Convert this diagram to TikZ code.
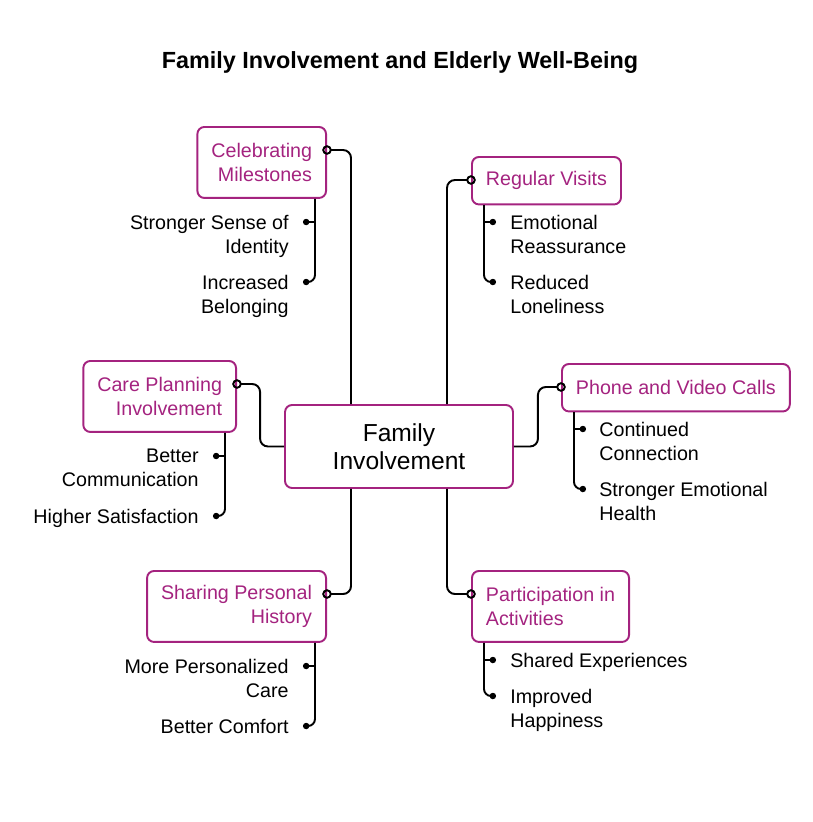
\documentclass[tikz,border=0pt]{standalone}
\usepackage{fontspec}
\setmainfont{Liberation Sans}
\usepackage{xcolor}
\usepackage{tikz}
\usetikzlibrary{arrows.meta, positioning, calc}

\definecolor{plum}{HTML}{A4237F}

\begin{document}
\begin{tikzpicture}[
  x=0.02cm, y=-0.02cm,
  every node/.style={font=\fontsize{11.2}{13.6}\selectfont},
  hubblock/.style={draw=plum, line width=1.1pt, rounded corners=4pt, align=center,
                   minimum width=4.56cm, minimum height=1.66cm,
                   font=\fontsize{14}{16}\selectfont},
  topicL/.style  ={draw=plum, line width=1.1pt, rounded corners=4pt, text=plum,
                   align=right, inner xsep=0.28cm, inner ysep=0pt, anchor=north east},
  topicR/.style  ={draw=plum, line width=1.1pt, rounded corners=4pt, text=plum,
                   align=left, inner xsep=0.28cm, inner ysep=0pt, anchor=north west},
  one/.style={minimum height=0.95cm},
  two/.style={minimum height=1.42cm},
  itemL/.style={align=right, inner sep=0pt, anchor=north east},
  itemR/.style={align=left, inner sep=0pt, anchor=north west},
  link/.style={arrows={Circle[open, length=5.4pt]-}, line width=1.1pt,
               rounded corners=4.5pt, shorten <=-2.7pt},
  twig/.style={arrows={-Circle[length=3.6pt]}, line width=1.1pt},
  titleText/.style={font=\bfseries\fontsize{13.3}{16}\selectfont},
]
\useasboundingbox (0,0) rectangle (813,822);

%% ── Title ───────────────────────────────────────────────────────────────────
\node[titleText] (title) at (400,63) {Family Involvement and Elderly Well-Being};

%% ── Hub ─────────────────────────────────────────────────────────────────────
\node[hubblock] (hub) at (399,446.5) {Family\\Involvement};

%% ── Topics, left side ───────────────────────────────────────────────────────
\node[topicL, two] (mile)  at (327,126) {Celebrating\\Milestones};
\node[topicL, two] (care)  at (237,360) {Care Planning\\Involvement};
\node[topicL, two] (share) at (327,570) {Sharing Personal\\History};

%% ── Topics, right side ──────────────────────────────────────────────────────
\node[topicR, one] (visit) at (471,156) {Regular Visits};
\node[topicR, one] (phone) at (561,363) {Phone and Video Calls};
\node[topicR, two] (part)  at (471,570) {Participation in\\Activities};

%% ── Item dots ───────────────────────────────────────────────────────────────
\coordinate (identD)  at (303,222);
\coordinate (belongD) at (303,282);
\coordinate (reassD)  at (496,222);
\coordinate (lonelyD) at (496,282);
\coordinate (commD)   at (213,456);
\coordinate (satisD)  at (213,516);
\coordinate (connD)   at (586,429);
\coordinate (healthD) at (586,489);
\coordinate (persD)   at (303,666);
\coordinate (comfD)   at (303,726);
\coordinate (sharedD) at (496,660);
\coordinate (happyD)  at (496,696);

%% ── Items ───────────────────────────────────────────────────────────────────
\node[itemL] (ident)  at ($(identD)+(-14,-7)$)  {Stronger Sense of\\Identity};
\node[itemL] (belong) at ($(belongD)+(-14,-7)$) {Increased\\Belonging};
\node[itemR] (reass)  at ($(reassD)+(14,-7)$)   {Emotional\\Reassurance};
\node[itemR] (lonely) at ($(lonelyD)+(14,-7)$)  {Reduced\\Loneliness};
\node[itemL] (comm)   at ($(commD)+(-14,-7)$)   {Better\\Communication};
\node[itemL] (satis)  at ($(satisD)+(-14,-7)$)  {Higher Satisfaction};
\node[itemR] (conn)   at ($(connD)+(13,-7)$)    {Continued\\Connection};
\node[itemR] (health) at ($(healthD)+(13,-7)$)  {Stronger Emotional\\Health};
\node[itemL] (pers)   at ($(persD)+(-14,-7)$)   {More Personalized\\Care};
\node[itemL] (comf)   at ($(comfD)+(-14,-7)$)   {Better Comfort};
\node[itemR] (shared) at ($(sharedD)+(14,-7)$)  {Shared Experiences};
\node[itemR] (happy)  at ($(happyD)+(14,-7)$)   {Improved\\Happiness};

%% ── Hub to topics ───────────────────────────────────────────────────────────
\draw[link] ($(mile.north east)+(0,24)$)  -| ($(hub.north)+(-48,0)$);
\draw[link] ($(visit.north west)+(0,24)$) -| ($(hub.north)+(48,0)$);
\draw[link] ($(care.north east)+(0,24)$)  -| ($(hub.west)+(-24,0)$) -- (hub.west);
\draw[link] ($(phone.north west)+(0,24)$) -| ($(hub.east)+(24,0)$) -- (hub.east);
\draw[link] ($(share.north east)+(0,24)$) -| ($(hub.south)+(-48,0)$);
\draw[link] ($(part.north west)+(0,24)$)  -| ($(hub.south)+(48,0)$);

%% ── Topics to items ─────────────────────────────────────────────────────────
\draw[twig] ($(mile.south east)+(-12,0)$) |- (identD);
\draw[twig, rounded corners=4pt] ($(mile.south east)+(-12,0)$) |- (belongD);
\draw[twig] ($(visit.south west)+(13,0)$) |- (reassD);
\draw[twig, rounded corners=4pt] ($(visit.south west)+(13,0)$) |- (lonelyD);
\draw[twig] ($(care.south east)+(-12,0)$) |- (commD);
\draw[twig, rounded corners=4pt] ($(care.south east)+(-12,0)$) |- (satisD);
\draw[twig] ($(phone.south west)+(13,0)$) |- (connD);
\draw[twig, rounded corners=4pt] ($(phone.south west)+(13,0)$) |- (healthD);
\draw[twig] ($(share.south east)+(-12,0)$) |- (persD);
\draw[twig, rounded corners=4pt] ($(share.south east)+(-12,0)$) |- (comfD);
\draw[twig] ($(part.south west)+(13,0)$) |- (sharedD);
\draw[twig, rounded corners=4pt] ($(part.south west)+(13,0)$) |- (happyD);

\end{tikzpicture}
\end{document}
